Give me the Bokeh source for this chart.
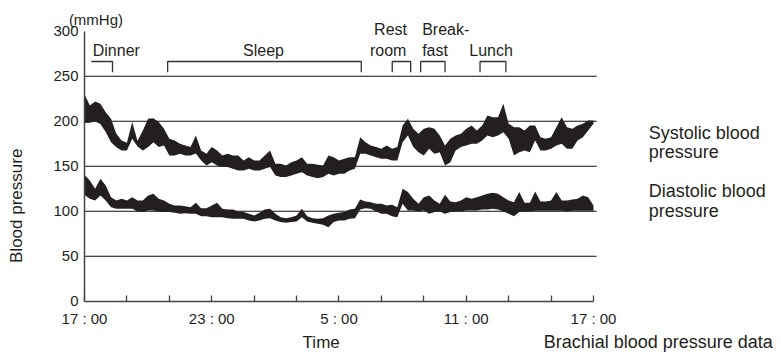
import math
from bokeh.plotting import figure
from bokeh.models import Label, FixedTicker, ColumnDataSource
from bokeh.embed import file_html
from bokeh.resources import INLINE

# ---- data (hours after 17:00, sampled every 15 min) ----
hours = [i / 4 for i in range(97)]

sys_top = [230, 217.5, 222, 219.3,
           210, 202.7, 186, 178.6,
           176, 199, 178, 189.7,
           202.7, 203.4, 199, 191.5,
           180.4, 178.6, 174.9, 173,
           171.2, 184, 167.5, 163.8,
           171.2, 167.5, 162, 163.8,
           162, 162, 156.4, 160,
           156.4, 156.4, 162, 167.5,
           152.7, 152.7, 150.8, 154.5,
           156.4, 160, 152.7, 152.7,
           151.6, 150.8, 162, 160,
           156.4, 158.2, 160, 160,
           182.3, 176.7, 173, 171.2,
           169.3, 173, 169.3, 171.2,
           195.3, 202.7, 191.5, 186,
           191.5, 193.4, 191.5, 184.1,
           173, 180.4, 184.1, 186,
           191.5, 195.3, 189.7, 195.3,
           206.4, 204.5, 204.5, 219.3,
           197.1, 193.4, 193.4, 189.7,
           195.3, 195.3, 182.3, 180.4,
           182.3, 193.4, 204.5, 193.4,
           191.5, 195.3, 197.1, 200.8,
           200.8]

sys_bot = [198, 198.2, 199.7, 197,
           188, 176.7, 171, 167.5,
           167.5, 180.4, 172, 167.5,
           171.2, 176.7, 171.2, 173,
           162, 162, 163.8, 162,
           162, 164, 156.4, 150.8,
           154.5, 150.8, 149, 149,
           147.1, 145.3, 145.3, 147.1,
           145.3, 145.3, 147.1, 149,
           139.7, 137.9, 137.9, 139.7,
           141.6, 143.4, 139.7, 137.9,
           136.7, 137.9, 141.6, 139.7,
           141.6, 141.6, 145.3, 147.1,
           163.8, 163.8, 162, 160,
           158.2, 158.2, 156.4, 156.4,
           176.7, 184, 171.2, 165.6,
           162, 169.3, 163.8, 165.6,
           150.8, 154.5, 167.5, 171.2,
           173, 174.9, 174.9, 178.6,
           184.1, 182.3, 184.1, 187.8,
           180.4, 162, 165.6, 167.5,
           165.6, 178.6, 167.5, 167.5,
           169.3, 173, 174.9, 169.3,
           169.3, 178.6, 182.3, 189.7,
           197.1]

dia_top = [140.4, 134.2, 124.9, 136,
           128.6, 115.6, 111.9, 113.8,
           111.9, 115.6, 111.9, 111.9,
           117.5, 119.3, 113.8, 111.9,
           108.2, 106.4, 106.4, 105.6,
           104.5, 109.3, 103.4, 103.4,
           106.4, 109.3, 102.7, 101.9,
           101.9, 99.7, 99, 97.1,
           95.3, 98.2, 101.9, 102.7,
           97.1, 93.4, 92.3, 93.4,
           95.3, 102.7, 94.5, 92.3,
           91.6, 92.3, 95.3, 97.1,
           98.2, 99, 101.9, 102.7,
           113, 110.8, 110, 108.2,
           108.2, 106.4, 107.1, 104.5,
           124.9, 121.2, 113.8, 108.2,
           115.6, 117.5, 111.9, 108.2,
           118.2, 110.8, 110, 111.9,
           115.6, 113.8, 115.6, 117.5,
           119.3, 120.4, 119.3, 115.6,
           111.9, 110, 121.2, 109.3,
           109.3, 121.9, 110.8, 110.8,
           111.9, 121.2, 111.9, 111.9,
           113, 113.8, 117.5, 115.6,
           106.4]

dia_bot = [118, 113.8, 112, 117.5,
           112, 104.5, 102.7, 102.7,
           102.7, 102.7, 99.7, 99,
           100.8, 100.8, 99.7, 99,
           99, 98.2, 97.1, 97.8,
           97.1, 97.1, 94.5, 94.5,
           93.4, 93.4, 93.4, 92.3,
           91.6, 91.6, 91.6, 89.7,
           88.6, 89.7, 91.6, 92.3,
           89.7, 87.9, 87.1, 87.9,
           88.6, 93.4, 88.6, 87.1,
           86, 84.9, 82.3, 87.9,
           89.7, 89.7, 91.6, 92.3,
           101.9, 103.4, 102.7, 99.7,
           97.1, 97.1, 94.5, 93.4,
           108.2, 100.8, 100.8, 99.7,
           100.8, 97.1, 99, 99.7,
           97.1, 99, 99.7, 99.7,
           100.8, 100.8, 100.8, 101.9,
           101.9, 102.7, 101.9, 99.7,
           97.1, 94.5, 99, 99.7,
           99.7, 100.4, 100.4, 100.4,
           100.4, 100.4, 100.4, 99.7,
           100.4, 100.4, 100.4, 100.4,
           100.4]

grid_levels = [50, 100, 150, 200, 250]
grid_end = 24.15
y_ticks = [0, 50, 100, 150, 200, 250, 300]
tick_hours = [0, 6, 12, 18, 24]
tick_labels = ["17 : 00", "23 : 00", "5 : 00", "11 : 00", "17 : 00"]
minor_hours = [2, 4, 8, 10, 14, 16, 20, 22]

events = ["Dinner", "Sleep", "Rest room", "Breakfast", "Lunch"]
ev_start = [0.32, 3.92, 14.51, 15.85, 18.65]
ev_end = [1.32, 13.05, 15.38, 17.0, 19.87]
ev_left_tick = [False, True, True, True, True]

FONT = "Liberation Sans"
INK = "#231f20"

# frame covers the whole canvas; axes are drawn at fixed data locations
p = figure(width=781, height=353, output_backend="svg", toolbar_location=None,
           x_range=(-3.961, 32.865), y_range=(-58.1, 334.1),
           min_border_left=0, min_border_right=0, min_border_top=0, min_border_bottom=0)
p.outline_line_color = None
p.xgrid.visible = False
p.ygrid.visible = False
p.background_fill_color = "white"

# horizontal reference lines
p.segment(x0=[0] * len(grid_levels), x1=[grid_end] * len(grid_levels),
          y0=grid_levels, y1=grid_levels, line_color="#111111", line_width=1.1)

src = ColumnDataSource(dict(h=hours, st=sys_top, sb=sys_bot, dt=dia_top, db=dia_bot))
p.varea(x="h", y1="sb", y2="st", source=src, fill_color=INK)
p.varea(x="h", y1="db", y2="dt", source=src, fill_color=INK)

# event brackets
br_top, br_bot = 266.3, 254.4
xs, ys = [], []
for s, e, lt in zip(ev_start, ev_end, ev_left_tick):
    if lt:
        xs.append([s, s, e, e]); ys.append([br_bot, br_top, br_top, br_bot])
    else:
        xs.append([s, e, e]); ys.append([br_top, br_top, br_bot])
p.multi_line(xs, ys, line_color="#333333", line_width=1.3)

# axes
xa = p.xaxis[0]
xa.fixed_location = 0
xa.ticker = FixedTicker(ticks=tick_hours, minor_ticks=minor_hours)
xa.major_label_overrides = {t: l for t, l in zip(tick_hours, tick_labels)}
xa.bounds = (0, 24)
xa.major_tick_in = 6; xa.major_tick_out = 0
xa.minor_tick_in = 6; xa.minor_tick_out = 0
xa.axis_line_color = "#444444"; xa.axis_line_width = 1.5
xa.major_tick_line_color = "#444444"; xa.minor_tick_line_color = "#444444"
xa.major_tick_line_width = 1.3; xa.minor_tick_line_width = 1.3
xa.major_label_text_font = FONT; xa.major_label_text_font_size = "15px"
xa.major_label_text_color = INK; xa.major_label_standoff = 9

ya = p.yaxis[0]
ya.fixed_location = 0
ya.ticker = FixedTicker(ticks=y_ticks)
ya.bounds = (0, 300)
ya.major_tick_in = 0; ya.major_tick_out = 0
ya.minor_tick_line_color = None
ya.axis_line_color = "#444444"; ya.axis_line_width = 1.5
ya.major_label_text_font = FONT; ya.major_label_text_font_size = "15px"
ya.major_label_text_color = INK; ya.major_label_standoff = 6


def lab(x, y, text, size, align="center", angle=0):
    p.add_layout(Label(x=x, y=y, text=text, text_font=FONT, text_font_size=size,
                       text_color=INK, text_align=align, text_baseline="middle",
                       angle=angle))


lab(0.54, 313, "(mmHg)", "15px")
lab(1.5, 278.2, "Dinner", "16px")
lab(8.44, 278.2, "Sleep", "16px")
lab(14.43, 302, "Rest", "16px")
lab(14.32, 278.2, "room", "16px")
lab(15.92, 302, "Break-", "16px", align="left")
lab(15.92, 278.2, "fast", "16px", align="left")
lab(19.17, 278.2, "Lunch", "16px")

lab(26.6, 187, "Systolic blood", "18px", align="left")
lab(26.6, 165.6, "pressure", "18px", align="left")
lab(26.6, 121.9, "Diastolic blood", "18px", align="left")
lab(26.6, 99.7, "pressure", "18px", align="left")

lab(11.16, -45.5, "Time", "17px")
lab(21.65, -45.5, "Brachial blood pressure data", "18px", align="left")
lab(-3.2, 106, "Blood pressure", "17px", angle=math.pi / 2)

open("out.html", "w").write(file_html(p, INLINE))
